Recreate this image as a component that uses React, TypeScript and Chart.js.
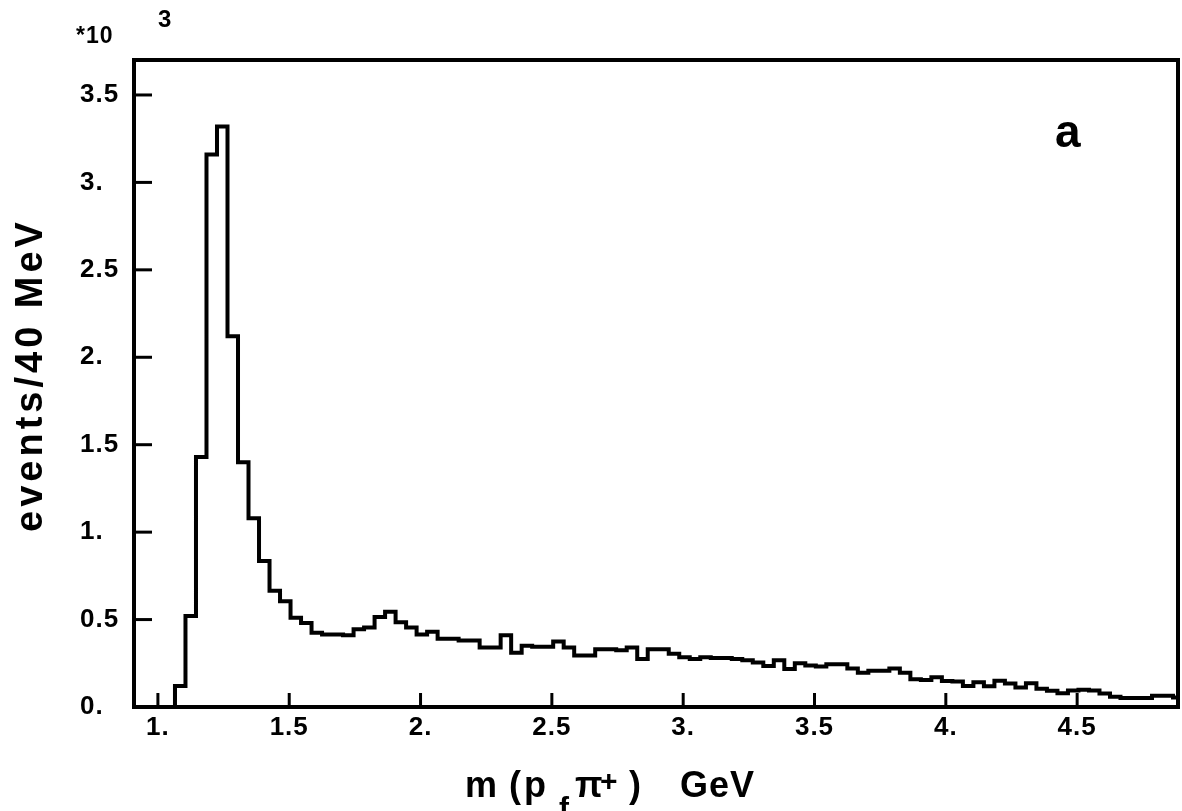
import { useEffect, useRef } from "react";
import { Chart, registerables } from "chart.js";

Chart.register(...registerables);

// 40 MeV bins of the m(p_f π+) spectrum, first bin starts at 1.065 GeV
const BIN_START_GEV = 1.065;
const BIN_WIDTH_GEV = 0.04;

// events per bin, in units of 10^3
const EVENTS_K = [
  0.12, 0.52, 1.43, 3.16, 3.32, 2.12, 1.4, 1.08, 0.835, 0.665,
  0.605, 0.51, 0.48, 0.425, 0.415, 0.415, 0.41, 0.445, 0.455, 0.515,
  0.545, 0.485, 0.455, 0.415, 0.43, 0.39, 0.39, 0.38, 0.38, 0.34,
  0.34, 0.41, 0.31, 0.35, 0.345, 0.345, 0.375, 0.34, 0.295, 0.295,
  0.33, 0.33, 0.325, 0.34, 0.275, 0.33, 0.33, 0.305, 0.285, 0.275,
  0.285, 0.28, 0.28, 0.275, 0.268, 0.255, 0.235, 0.268, 0.218, 0.25,
  0.238, 0.232, 0.245, 0.245, 0.22, 0.196, 0.208, 0.208, 0.22, 0.196,
  0.158, 0.155, 0.17, 0.148, 0.146, 0.12, 0.141, 0.119, 0.15, 0.135,
  0.112, 0.136, 0.105, 0.093, 0.078, 0.095, 0.098, 0.095, 0.077, 0.058,
  0.052, 0.052, 0.052, 0.064, 0.064, 0.054,
];

const X_TICKS = [1, 1.5, 2, 2.5, 3, 3.5, 4, 4.5];
const X_TICK_LABELS = ["1.", "1.5", "2.", "2.5", "3.", "3.5", "4.", "4.5"];
const Y_TICKS = [0, 0.5, 1, 1.5, 2, 2.5, 3, 3.5];
const Y_TICK_LABELS = ["0.", "0.5", "1.", "1.5", "2.", "2.5", "3.", "3.5"];

const X_RANGE = [0.909, 4.884];
const Y_RANGE = [0, 3.7];

const FONT_FAMILY = '"Liberation Sans", Arial, Helvetica, sans-serif';
const boldFont = (px: number) => `bold ${px}px ${FONT_FAMILY}`;

// Histogram outline: rise from zero at the first edge, then a flat top per bin.
function histogramOutline() {
  const pts: { x: number; y: number }[] = [{ x: BIN_START_GEV, y: 0 }];
  EVENTS_K.forEach((v, i) => {
    const lo = BIN_START_GEV + i * BIN_WIDTH_GEV;
    pts.push({ x: lo, y: v }, { x: lo + BIN_WIDTH_GEV, y: v });
  });
  return pts;
}

// Boxed frame with inward-pointing major ticks.
const framePlugin = {
  id: "frame",
  beforeDraw(chart: any) {
    chart.ctx.letterSpacing = "1px";
  },
  afterDatasetsDraw(chart: any) {
    const { ctx, chartArea: a, scales } = chart;
    ctx.save();
    ctx.strokeStyle = "#000";
    ctx.lineWidth = 4;
    ctx.lineJoin = "miter";
    ctx.strokeRect(a.left, a.top, a.right - a.left, a.bottom - a.top);
    ctx.lineWidth = 3;
    ctx.lineCap = "butt";
    for (const v of X_TICKS) {
      const px = scales.x.getPixelForValue(v);
      ctx.beginPath();
      ctx.moveTo(px, a.bottom);
      ctx.lineTo(px, a.bottom - 14);
      ctx.stroke();
    }
    for (const v of Y_TICKS) {
      if (v === 0) continue;
      const py = scales.y.getPixelForValue(v);
      ctx.beginPath();
      ctx.moveTo(a.left, py);
      ctx.lineTo(a.left + 18, py);
      ctx.stroke();
    }
    ctx.restore();
  },
};

// Axis titles, scale factor and panel letter.
const X_TITLE_PARTS = [
  { text: "m", x: 465, y: 797, size: 36 },
  { text: "(", x: 509, y: 797, size: 36 },
  { text: "p", x: 524, y: 797, size: 36 },
  { text: "f", x: 559, y: 818, size: 30 },
  { text: "π", x: 575, y: 797, size: 36 },
  { text: "+", x: 600, y: 791, size: 30 },
  { text: ")", x: 629, y: 797, size: 36 },
  { text: "GeV", x: 680, y: 797, size: 36 },
];

const textPlugin = {
  id: "texts",
  afterDraw(chart: any) {
    const ctx = chart.ctx;
    ctx.save();
    ctx.fillStyle = "#000";
    ctx.textBaseline = "alphabetic";
    ctx.textAlign = "left";

    ctx.letterSpacing = "1px";
    for (const p of X_TITLE_PARTS) {
      ctx.font = boldFont(p.size);
      ctx.fillText(p.text, p.x, p.y);
    }

    ctx.save();
    ctx.translate(42, 375);
    ctx.rotate(-Math.PI / 2);
    ctx.font = boldFont(38);
    ctx.letterSpacing = "4px";
    ctx.textAlign = "center";
    ctx.fillText("events/40 MeV", 0, 0);
    ctx.restore();

    ctx.letterSpacing = "1px";
    ctx.font = boldFont(23);
    ctx.fillText("*10", 76, 43);
    ctx.font = boldFont(24);
    ctx.fillText("3", 158, 27);

    ctx.letterSpacing = "0px";
    ctx.font = boldFont(46);
    ctx.fillText("a", 1055, 147);
    ctx.restore();
  },
};

export default function App() {
  const canvasRef = useRef<HTMLCanvasElement>(null);

  useEffect(() => {
    const canvas = canvasRef.current;
    if (!canvas) return;
    const tickFont = { family: FONT_FAMILY, size: 26, weight: "bold" as const };
    const chart = new Chart(canvas, {
      type: "line",
      data: {
        datasets: [
          {
            data: histogramOutline(),
            borderColor: "#000",
            borderWidth: 4,
            borderJoinStyle: "miter",
            borderCapStyle: "butt",
            pointRadius: 0,
            tension: 0,
            fill: false,
          },
        ],
      },
      options: {
        responsive: false,
        animation: false,
        devicePixelRatio: 1,
        events: [],
        layout: { padding: { left: 80, top: 60, right: 4, bottom: 0 } },
        plugins: {
          legend: { display: false },
          tooltip: { enabled: false },
        },
        scales: {
          x: {
            type: "linear",
            min: X_RANGE[0],
            max: X_RANGE[1],
            grid: { display: false, drawTicks: false },
            border: { display: false },
            afterBuildTicks: (s: any) => {
              s.ticks = X_TICKS.map((v) => ({ value: v }));
            },
            afterFit: (s: any) => {
              s.height = 104;
            },
            ticks: {
              autoSkip: false,
              maxRotation: 0,
              minRotation: 0,
              padding: 5,
              color: "#000",
              font: tickFont,
              callback: (v: any) => X_TICK_LABELS[X_TICKS.indexOf(Number(v))] ?? "",
            },
          },
          y: {
            type: "linear",
            min: Y_RANGE[0],
            max: Y_RANGE[1],
            grid: { display: false, drawTicks: false },
            border: { display: false },
            afterBuildTicks: (s: any) => {
              s.ticks = Y_TICKS.map((v) => ({ value: v }));
            },
            afterFit: (s: any) => {
              s.width = 54;
            },
            ticks: {
              autoSkip: false,
              crossAlign: "far",
              padding: 0,
              color: "#000",
              font: tickFont,
              callback: (v: any) => Y_TICK_LABELS[Y_TICKS.indexOf(Number(v))] ?? "",
            },
          },
        },
      },
      plugins: [framePlugin, textPlugin],
    });
    return () => chart.destroy();
  }, []);

  return (
    <div style={{ position: "fixed", left: 0, top: 0, width: 1182, height: 811, background: "#fff" }}>
      <canvas ref={canvasRef} width={1182} height={811} style={{ display: "block", width: 1182, height: 811 }} />
    </div>
  );
}
